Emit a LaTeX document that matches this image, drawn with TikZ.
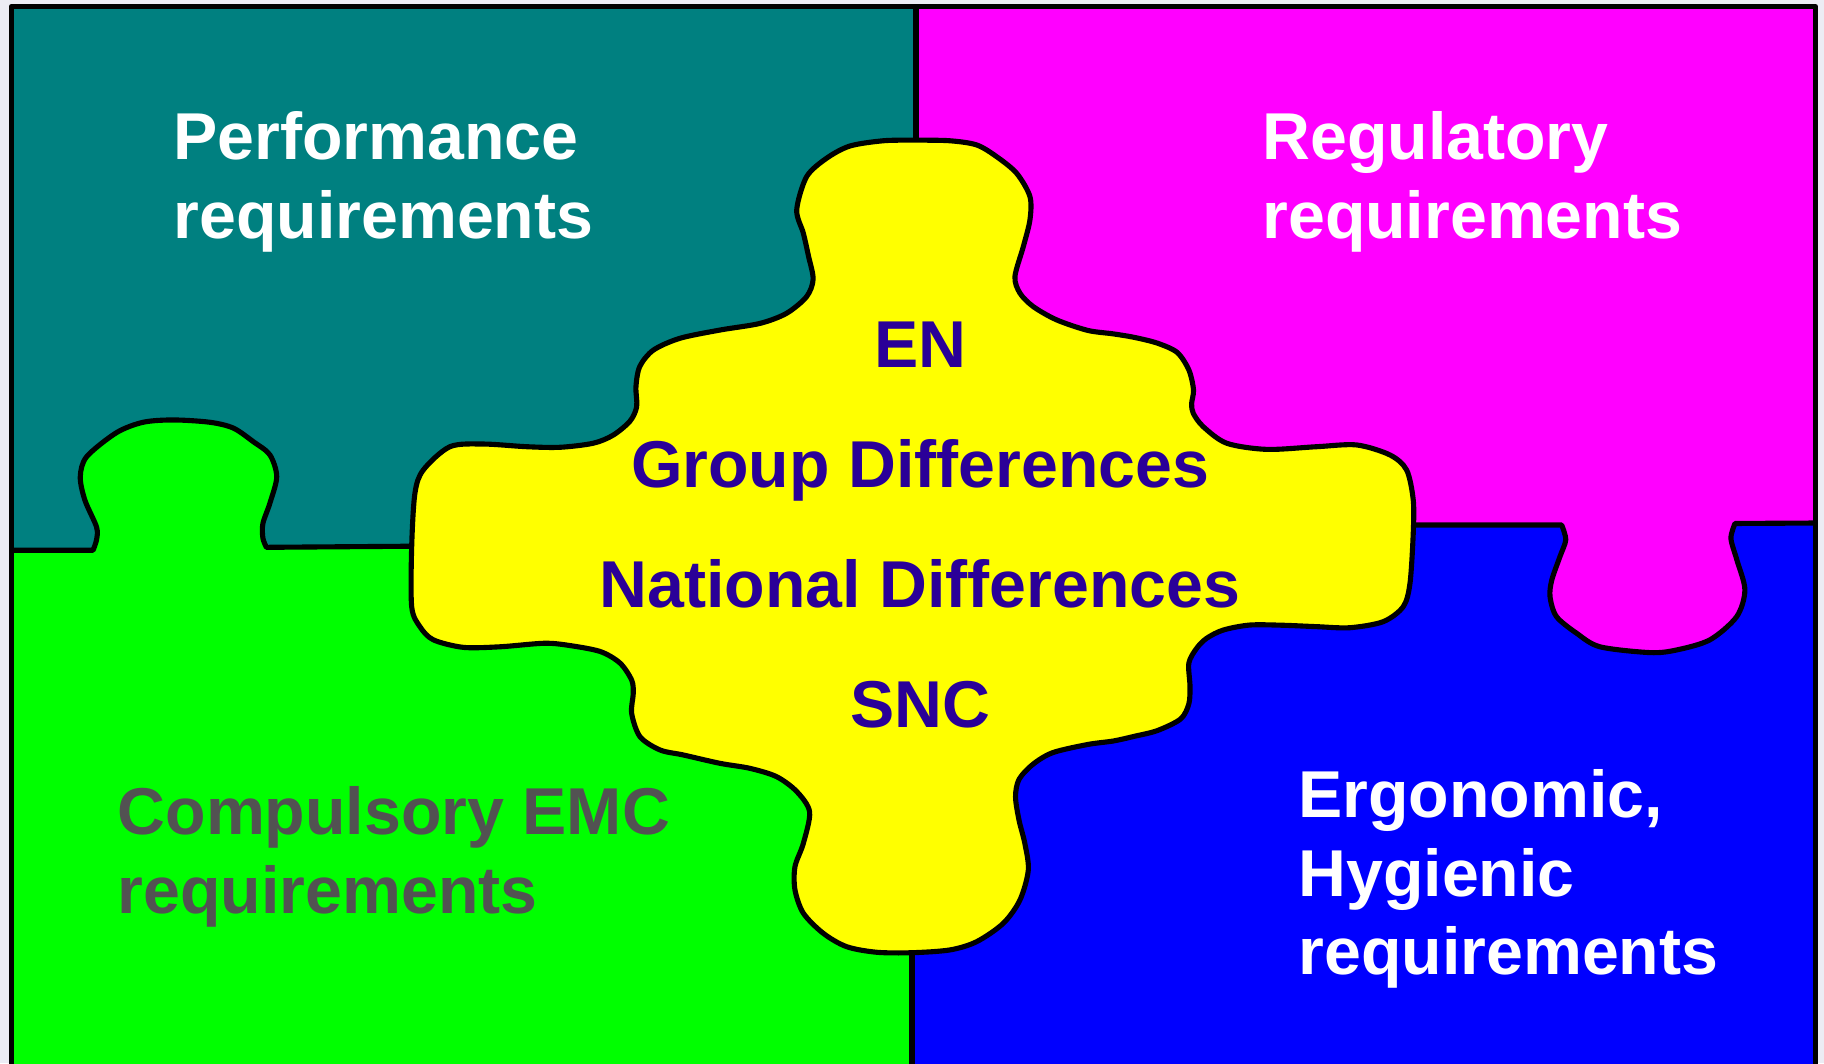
\documentclass[tikz,border=0pt]{standalone}
\usepackage{fontspec}
\setmainfont{Liberation Sans}
\usetikzlibrary{positioning}

\definecolor{paper}{RGB}{236,236,244}
\definecolor{pteal}{RGB}{0,128,128}
\definecolor{pmagenta}{RGB}{255,0,255}
\definecolor{pgreen}{RGB}{0,255,0}
\definecolor{pblue}{RGB}{0,0,255}
\definecolor{pyellow}{RGB}{255,255,0}
\definecolor{ink}{RGB}{42,0,152}
\definecolor{slate}{RGB}{82,82,82}

\begin{document}
\begin{tikzpicture}[x=0.01cm,y=-0.01cm,line width=1.25pt,line join=round,
  every node/.style={inner sep=0pt,font=\bfseries\fontsize{16.2}{19.2}\selectfont},
  reqtext/.style={align=left,anchor=base west}]
\useasboundingbox (0,0) rectangle (1568,914);
\clip (0,0) rectangle (1568,914);

\coordinate (NW) at (9.6,5.6);
\coordinate (SE) at (1560.7,935);
\coordinate (T) at (787.4,5.6);
\coordinate (B) at (784,935);
\coordinate (L) at (9.6,473);
\coordinate (R) at (1560.7,449.6);

% the four pieces
\fill[paper] (0,0) rectangle (1568,914);
\fill[pteal] (NW) rectangle (787.4,473);
\fill[pmagenta] (T) rectangle (1560.7,452);
\fill[pgreen] (9.6,471) rectangle (B);
\fill[pblue] (784,450) rectangle (SE);

% green tab
\fill[pgreen] plot[smooth] coordinates {(80,473) (83,464) (83,453) (73,430) (69,410)
  (74.5,392.6) (100,372) (123,363) (149,361) (180.5,363) (200.6,368) (217.8,379.7)
  (232,391) (237.9,409.8) (232,432.6) (226,450) (226,462.6) (229,470.5)}
  -- (229,480) -- (80,480) -- cycle;
\draw (L) -- (80,473) -- plot[smooth] coordinates {(80,473) (83,464) (83,453) (73,430)
  (69,410) (74.5,392.6) (100,372) (123,363) (149,361) (180.5,363) (200.6,368)
  (217.8,379.7) (232,391) (237.9,409.8) (232,432.6) (226,450) (226,462.6) (229,470.5)}
  -- (360,469.5);

% magenta tab
\fill[pmagenta] plot[smooth] coordinates {(1342.5,451.3) (1346,464) (1341,478.5)
  (1334,498.6) (1332.5,513) (1338,530) (1355.4,544.4) (1375.4,556) (1418.4,561)
  (1441,558.8) (1470,550) (1493,530) (1500,507) (1493,481) (1488,462.8) (1491.5,450)}
  -- (1491.5,440) -- (1342.5,440) -- cycle;
\draw (1205,451.3) -- plot[smooth] coordinates {(1342.5,451.3) (1346,464) (1341,478.5)
  (1334,498.6) (1332.5,513) (1338,530) (1355.4,544.4) (1375.4,556) (1418.4,561)
  (1441,558.8) (1470,550) (1493,530) (1500,507) (1493,481) (1488,462.8) (1491.5,450)}
  -- (R);

\draw (T) -- (787.4,130);
\draw (784,810) -- (B);
\draw (NW) rectangle (SE);

% centre piece
\filldraw[fill=pyellow] plot[smooth cycle] coordinates {
  (787,120.5) (816.6,121) (839.6,124.6) (856.8,134.7) (874,149) (885.4,169)
  (885.4,189) (879.7,212) (872.5,237.8) (876.8,252) (888.3,263.6) (908.4,275)
  (935,284) (957,287) (975,290) (995,295) (1012,303) (1022,318) (1026,335)
  (1024.4,347) (1025.8,355.3) (1034.4,366.8) (1054.5,381) (1088.9,386.3)
  (1131.9,384) (1166.3,382.5) (1194.9,391.1) (1209.2,404) (1214.9,429.8)
  (1214.9,458.5) (1212.1,501.4) (1206.3,521.5) (1189.1,534.4) (1160.5,539.6)
  (1131.9,538.7) (1103.2,537.5) (1074.5,537.3) (1051.6,541.6) (1037.3,548.7)
  (1028.7,557.3) (1022,570) (1023,590) (1022,605) (1015,618) (995,628) (975,633)
  (957,637) (935,640) (905,647) (888,657) (876,670) (873,685) (876,705) (881,725)
  (884,747.9) (876.8,773.7) (862.5,793.7) (839.6,809.5) (816.6,816.6) (783.7,819)
  (753.6,818.6) (727.8,813.8) (707.7,802.3) (690.6,785) (683.4,765) (683.4,745)
  (690.6,725) (696,698) (685,680.5) (667.7,667.7) (644.7,660.5) (619,656.2)
  (587.4,649) (567.4,644.7) (550.2,633.3) (543,613.2) (544.4,596) (543,584.6)
  (533,570) (515.8,560) (487,554.5) (467,553) (429.8,556) (398.3,556.5)
  (372.5,550) (361,538.7) (353.9,521.5) (353.9,470) (356.7,424) (363.9,404)
  (386.8,384) (415.5,381.7) (452.7,384) (481.4,384.5) (510,381) (527.2,374)
  (541.6,362) (547.3,349.6) (546.7,332.4) (550,315) (561.6,301) (584.5,290.8)
  (619,283.7) (653.3,278) (676.2,269.3) (693.4,255) (699,240) (695,220)
  (690.6,200.5) (684.9,180.5) (693.4,151.9) (710.6,136) (730.7,125.5) (759.3,121)};

% texts (anchored at the last baseline)
\node[reqtext,white] (perf) at (147,205) {Performance\\requirements};
\node[reqtext,white] (regu) at (1083,205) {Regulatory\\requirements};
\node[reqtext,slate] (emc) at (99,785) {Compulsory EMC\\requirements};
\node[reqtext,white] (ergo) at (1114,838) {Ergonomic,\\Hygienic\\requirements};
\node[ink,align=center,anchor=base,font=\bfseries\fontsize{16.2}{29.3}\selectfont]
  (stds) at (791,625) {EN\\Group Differences\\National Differences\\SNC};
\end{tikzpicture}
\end{document}
